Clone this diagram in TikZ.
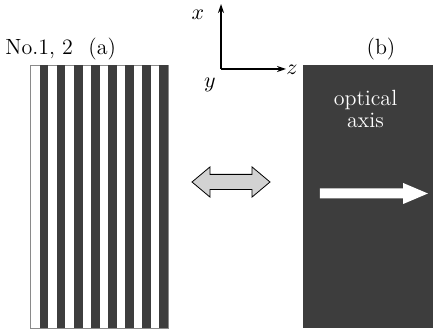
\documentclass[tikz,border=0pt]{standalone}
\usepackage{xcolor}
\usepackage{tikz}
\usetikzlibrary{arrows.meta,positioning,shapes.arrows}
\definecolor{dark}{HTML}{3D3D3D}
\definecolor{pale}{HTML}{D2D2D2}
\definecolor{rim}{HTML}{8A8A8A}

\begin{document}
\begin{tikzpicture}[
  x=0.5pt, y=-0.5pt,
  lbl/.style={inner sep=0pt, font=\fontsize{11}{12}\selectfont},
  axlbl/.style={inner sep=0pt, font=\fontsize{11}{12}\selectfont},
  axis/.style={draw=black, semithick, -{Stealth[length=4.5pt, width=3pt]}},
  swap/.style={double arrow, draw=black, thin, fill=pale,
               inner xsep=0pt, inner ysep=3.6pt,
               minimum height=39pt, minimum width=15pt,
               double arrow head extend=3.75pt, double arrow tip angle=80},
  beam/.style={single arrow, fill=white, inner xsep=0pt, inner ysep=2.3pt,
               minimum height=54pt, minimum width=10pt,
               single arrow head extend=2.75pt, single arrow tip angle=46}
]
\useasboundingbox (0,0) rectangle (437,330);
% grating (a)
\draw[rim, fill=white] (30,65) rectangle (168,328);
\foreach \i in {0,...,7}
  \fill[dark] ({39.5+17.1*\i},65) rectangle +(8.8,263);
% crystal (b)
\fill[dark] (303,65) rectangle (433,328);
\node[lbl, anchor=base west] (no) at (5,55) {No.1, 2};
\node[lbl, anchor=base west] (a) at (88,55) {(a)};
\node[lbl, anchor=base] (b) at (381,55) {(b)};
\node[lbl, text=white, align=center, anchor=base] (opt) at (365.5,128)
  {optical\\[-1pt]axis};
% arrows
\node[swap] (sw) at (231,182) {};
\node[beam] (bm) at (368,193.5) {};
% axes
\coordinate (o) at (221,69);
\coordinate (xe) at (221,4);
\coordinate (ze) at (286,69);
\draw[axis] (o) -- (xe);
\draw[axis] (o) -- (ze);
\node[axlbl] (xl) at (198,15) {$x$};
\node[axlbl] (yl) at (210,85) {$y$};
\node[axlbl, anchor=west] (zl) at (286,70) {$z$};
\end{tikzpicture}
\end{document}
